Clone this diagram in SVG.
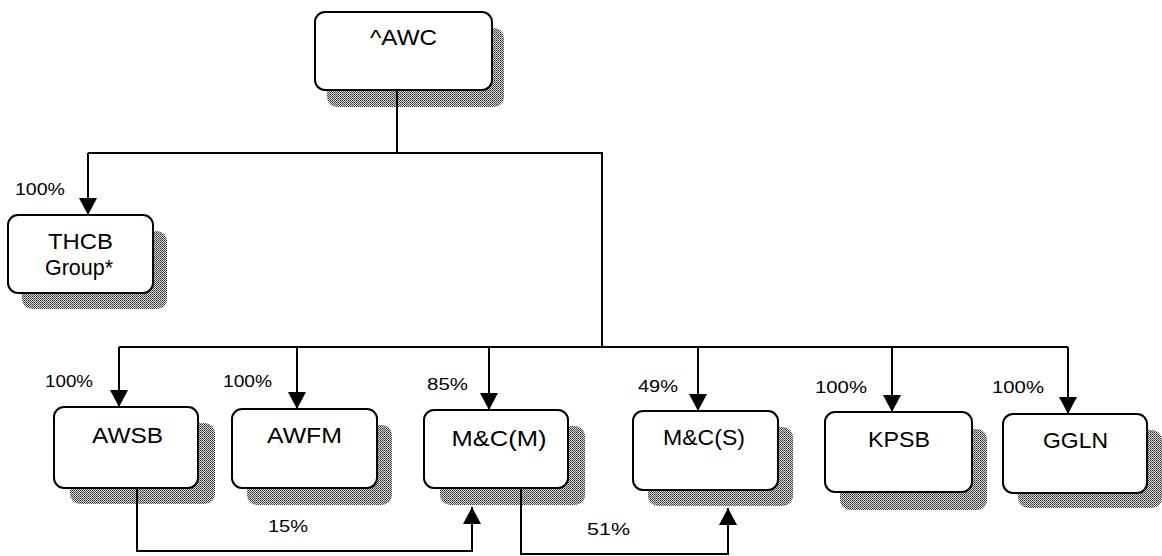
<svg xmlns="http://www.w3.org/2000/svg" width="1162" height="556" viewBox="0 0 1162 556">
<style>
.box{fill:#fff;stroke:#000;stroke-width:2}
.sh{fill:url(#dither);stroke:none}
.lbl{font-family:"Liberation Sans",Arial,sans-serif;font-size:22px;fill:#000;text-anchor:middle}
.pct{font-family:"Liberation Sans",Arial,sans-serif;font-size:16px;fill:#000}
.con{fill:none;stroke:#000;stroke-width:2}
</style>
<defs>
<pattern id="dither" width="2" height="2" patternUnits="userSpaceOnUse">
<rect width="2" height="2" fill="#d8d8d8"/>
<rect width="1" height="1" fill="#333"/>
<rect x="1" y="1" width="1" height="1" fill="#555"/>
</pattern>
<marker id="arr" viewBox="0 0 17 18" refX="17" refY="9" markerWidth="17" markerHeight="18" markerUnits="userSpaceOnUse" orient="auto">
<path d="M0,0 L17,9 L0,18 z" fill="#000"/>
</marker>
</defs>
<rect width="1162" height="556" fill="#fff"/>

<g id="shadows">
<rect class="sh" x="327" y="28" width="177" height="79" rx="10"/>
<rect class="sh" x="22" y="231" width="145" height="78" rx="10"/>
<rect class="sh" x="70" y="423" width="145" height="81" rx="10"/>
<rect class="sh" x="247" y="425" width="145" height="80" rx="10"/>
<rect class="sh" x="440" y="426" width="145" height="79" rx="10"/>
<rect class="sh" x="648" y="427" width="145" height="79" rx="10"/>
<rect class="sh" x="840" y="429" width="147" height="81" rx="10"/>
<rect class="sh" x="1018" y="430" width="144" height="78" rx="10"/>
</g>

<g id="connectors">
<path class="con" d="M397,90 V153"/>
<path class="con" d="M88,153 H602 V347"/>
<path class="con" d="M88,153 V215" marker-end="url(#arr)"/>
<path class="con" d="M119,347 H1068"/>
<path class="con" d="M119,347 V407" marker-end="url(#arr)"/>
<path class="con" d="M297,347 V409" marker-end="url(#arr)"/>
<path class="con" d="M489,347 V410" marker-end="url(#arr)"/>
<path class="con" d="M698,347 V411" marker-end="url(#arr)"/>
<path class="con" d="M892,347 V412" marker-end="url(#arr)"/>
<path class="con" d="M1068,347 V414" marker-end="url(#arr)"/>
<path class="con" d="M137,488 V551 H472 V507" marker-end="url(#arr)"/>
<path class="con" d="M521,488 V554 H728 V508" marker-end="url(#arr)"/>
<text class="pct" x="15" y="195" textLength="50" lengthAdjust="spacingAndGlyphs">100%</text>
<text class="pct" x="45" y="387" textLength="48" lengthAdjust="spacingAndGlyphs">100%</text>
<text class="pct" x="223" y="387" textLength="49" lengthAdjust="spacingAndGlyphs">100%</text>
<text class="pct" x="427" y="390" textLength="41" lengthAdjust="spacingAndGlyphs">85%</text>
<text class="pct" x="638" y="392" textLength="40" lengthAdjust="spacingAndGlyphs">49%</text>
<text class="pct" x="815" y="393" textLength="52" lengthAdjust="spacingAndGlyphs">100%</text>
<text class="pct" x="992" y="393" textLength="52" lengthAdjust="spacingAndGlyphs">100%</text>
<text class="pct" x="268" y="532" textLength="40" lengthAdjust="spacingAndGlyphs">15%</text>
<text class="pct" x="587" y="535" textLength="43" lengthAdjust="spacingAndGlyphs">51%</text>
</g>

<g id="node-awc">
<rect class="box" x="315" y="12" width="177" height="78" rx="10"/>
<text class="lbl" x="403.5" y="45" textLength="67" lengthAdjust="spacingAndGlyphs">^AWC</text>
</g>
<g id="node-thcb">
<rect class="box" x="8" y="215" width="145" height="78" rx="10"/>
<text class="lbl" x="80.5" y="249" textLength="65" lengthAdjust="spacingAndGlyphs">THCB</text>
<text class="lbl" x="79" y="275" textLength="68" lengthAdjust="spacingAndGlyphs">Group*</text>
</g>
<g id="node-awsb">
<rect class="box" x="54" y="407" width="144" height="81" rx="10"/>
<text class="lbl" x="127.5" y="443" textLength="71" lengthAdjust="spacingAndGlyphs">AWSB</text>
</g>
<g id="node-awfm">
<rect class="box" x="232" y="409" width="145" height="79" rx="10"/>
<text class="lbl" x="304.5" y="443" textLength="75" lengthAdjust="spacingAndGlyphs">AWFM</text>
</g>
<g id="node-mcm">
<rect class="box" x="424" y="410" width="144" height="78" rx="10"/>
<text class="lbl" x="499" y="446" textLength="95" lengthAdjust="spacingAndGlyphs">M&amp;C(M)</text>
</g>
<g id="node-mcs">
<rect class="box" x="633" y="411" width="145" height="79" rx="10"/>
<text class="lbl" x="704" y="445" textLength="82" lengthAdjust="spacingAndGlyphs">M&amp;C(S)</text>
</g>
<g id="node-kpsb">
<rect class="box" x="825" y="412" width="147" height="80" rx="10"/>
<text class="lbl" x="899" y="447" textLength="62" lengthAdjust="spacingAndGlyphs">KPSB</text>
</g>
<g id="node-ggln">
<rect class="box" x="1003" y="414" width="144" height="79" rx="10"/>
<text class="lbl" x="1075.5" y="448" textLength="65" lengthAdjust="spacingAndGlyphs">GGLN</text>
</g>
</svg>
